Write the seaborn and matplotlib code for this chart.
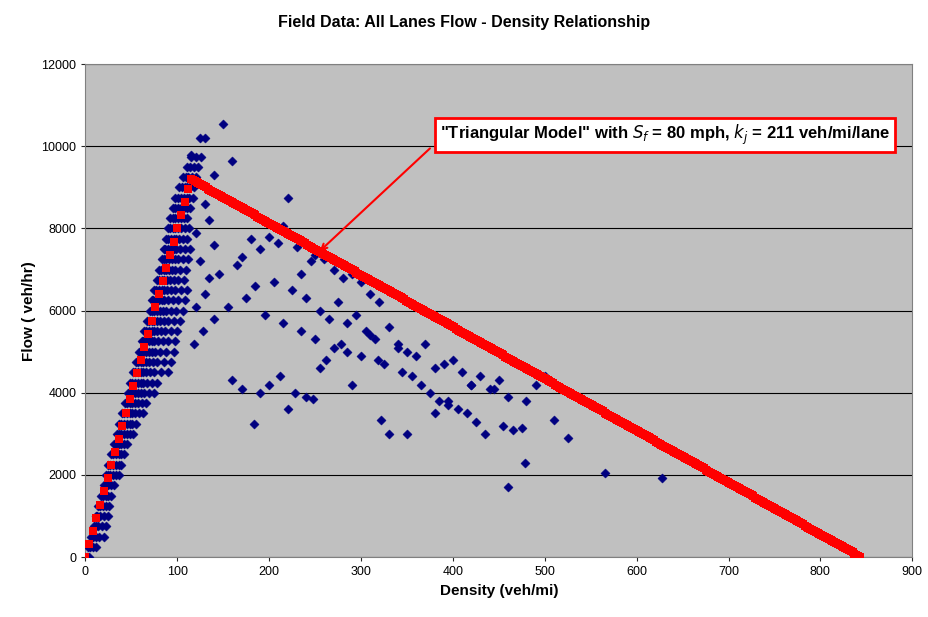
import numpy as np
import matplotlib
matplotlib.use("Agg")
import matplotlib.pyplot as plt
import seaborn as sns
import pandas as pd

# field data: dense free-flow band, flow level (veh/hr) -> observed densities (veh/mi)
band_rows = {
    0: [0, 2, 4],
    250: [3, 5, 8, 12],
    500: [6, 8, 11, 15, 20],
    750: [9, 11, 14, 18, 22],
    1000: [11, 13, 16, 20, 24],
    1250: [14, 16, 19, 22, 26],
    1500: [17, 19, 22, 25, 28],
    1750: [20, 22, 25, 28, 31],
    2000: [22, 24, 27, 30, 33, 36],
    2250: [25, 27, 30, 33, 36, 39],
    2500: [28, 30, 33, 36, 39, 42],
    2750: [31, 33, 36, 39, 42, 45],
    3000: [34, 36, 39, 42, 45, 48, 52],
    3250: [37, 39, 42, 45, 48, 51, 55],
    3500: [40, 42, 45, 48, 51, 54, 58, 63],
    3750: [43, 45, 48, 51, 54, 57, 61, 66],
    4000: [46, 48, 51, 54, 57, 60, 64, 69, 75],
    4250: [49, 51, 54, 57, 60, 63, 67, 72, 78],
    4500: [52, 54, 57, 60, 63, 66, 70, 75, 82, 90],
    4750: [55, 57, 60, 63, 66, 69, 73, 78, 85, 93],
    5000: [58, 60, 63, 66, 69, 72, 76, 81, 88, 96],
    5250: [61, 63, 66, 69, 72, 75, 79, 84, 90, 98],
    5500: [64, 66, 69, 72, 75, 78, 82, 87, 93, 100],
    5750: [67, 69, 72, 75, 78, 81, 85, 90, 96, 103],
    6000: [70, 72, 75, 78, 81, 84, 88, 93, 99, 106],
    6250: [72, 74, 77, 80, 83, 86, 90, 95, 101, 108],
    6500: [75, 77, 80, 83, 86, 89, 93, 98, 104, 110],
    6750: [78, 80, 83, 86, 89, 92, 96, 101, 107],
    7000: [80, 82, 85, 88, 91, 94, 98, 103, 109],
    7250: [83, 85, 88, 91, 94, 97, 101, 106, 112],
    7500: [85, 87, 90, 93, 96, 99, 103, 108, 114],
    7750: [88, 90, 93, 96, 99, 102, 106, 111],
    8000: [90, 92, 95, 98, 101, 104, 108, 113],
    8250: [92, 95, 98, 101, 104, 107, 111],
    8500: [95, 98, 101, 104, 107, 110, 114],
    8750: [98, 101, 104, 107, 110, 113, 117],
    9000: [102, 105, 108, 111, 114, 118],
    9250: [106, 109, 112, 116, 120],
    9500: [110, 114, 118, 122],
    9750: [115, 120, 126],
}

# field data: scattered congested points (density, flow)
scat_points = [
    (150, 10550), (125, 10200), (130, 10200), (115, 9800), (160, 9650), (140, 9300), (220, 8750),
    (215, 8050), (180, 7750), (200, 7800), (190, 7500), (210, 7650), (230, 7550), (170, 7300),
    (165, 7100), (245, 7200), (250, 7350), (260, 7250), (235, 6900), (270, 7000), (280, 6800),
    (290, 6900), (300, 6700), (310, 6400), (320, 6200), (240, 6300), (255, 6000), (265, 5800),
    (275, 6200), (285, 5700), (295, 5900), (305, 5500), (315, 5300), (330, 5600), (340, 5200),
    (350, 5000), (360, 4900), (370, 5200), (380, 4600), (390, 4700), (400, 4800), (410, 4500),
    (420, 4200), (430, 4400), (440, 4100), (450, 4300), (460, 3900), (470, 4700), (480, 3800),
    (490, 4200), (500, 4400), (510, 3350), (525, 2900), (565, 2050), (628, 1920), (185, 6600),
    (205, 6700), (225, 6500), (175, 6300), (155, 6100), (145, 6900), (195, 5900), (215, 5700),
    (235, 5500), (250, 5300), (270, 5100), (285, 5000), (300, 4900), (318, 4800), (325, 4700),
    (345, 4500), (355, 4400), (365, 4200), (375, 4000), (385, 3800), (395, 3700), (405, 3600),
    (415, 3500), (425, 3300), (435, 3000), (445, 4100), (455, 3200), (465, 3100), (475, 3150),
    (478, 2300), (460, 1700), (350, 3000), (322, 3350), (183, 3250), (330, 3000), (255, 4600),
    (290, 4200), (310, 5400), (340, 5100), (212, 4400), (228, 4000), (248, 3850), (262, 4800),
    (278, 5200), (160, 4300), (170, 4100), (190, 4000), (200, 4200), (220, 3600), (240, 3900),
    (380, 3500), (395, 3800), (420, 4200), (130, 8600), (135, 8200), (120, 7900), (140, 7600),
    (125, 7200), (135, 6800), (130, 6400), (120, 6100), (140, 5800), (128, 5500), (118, 5200),
]

# triangular model parameters
sf = 80.0          # mph
kj = 211 * 4       # veh/mi, 4 lanes
kc = 115.0
qmax = sf * kc
model_k = np.concatenate([np.arange(0, kc, 4.0), np.arange(kc, kj + 1, 2.0)])
model_q = np.where(model_k <= kc, sf * model_k, qmax * (kj - model_k) / (kj - kc))

band_points = [(k, q) for q, ks in band_rows.items() for k in ks]

sns.set_style("white")
plt.rcParams["font.family"] = ["Liberation Sans", "DejaVu Sans"]
plt.rcParams["text.color"] = "black"
plt.rcParams["axes.labelcolor"] = "black"

fig, ax = plt.subplots(figsize=(9.29, 6.17), dpi=100)
fig.subplots_adjust(left=0.092, right=0.982, top=0.896, bottom=0.097)
ax.set_facecolor("#C0C0C0")

field = pd.DataFrame(band_points + scat_points, columns=["k", "q"])
sns.scatterplot(data=field, x="k", y="q", marker="D", s=22, color="#000080",
                edgecolor="#000080", linewidth=0.3, ax=ax, zorder=3)
sns.scatterplot(x=model_k, y=model_q, marker="s", s=30, color="#FF0000",
                edgecolor="#FF0000", linewidth=0, ax=ax, zorder=4)

ax.set_xlim(0, 900)
ax.set_ylim(0, 12000)
ax.set_xticks(range(0, 901, 100))
ax.set_yticks(range(0, 12001, 2000))
ax.yaxis.grid(True, color="black", linewidth=0.8)
ax.set_axisbelow(True)
for s in ax.spines.values():
    s.set_color("#808080")
ax.tick_params(labelsize=9, length=3, direction="out", left=True, bottom=True,
               labelcolor="black")
ax.set_xlabel("Density (veh/mi)", fontsize=11, fontweight="bold")
ax.set_ylabel("Flow ( veh/hr)", fontsize=11, fontweight="bold")
fig.suptitle("Field Data: All Lanes Flow - Density Relationship", fontsize=11.5,
             fontweight="bold", y=0.975)

ax.annotate("", xy=(255, 7450), xytext=(375, 9950),
            arrowprops=dict(arrowstyle="->", color="#FF0000", lw=1.5,
                            shrinkA=0, shrinkB=0), zorder=5)
ax.text(631, 10270, r'"Triangular Model" with $S_f$ = 80 mph, $k_j$ = 211 veh/mi/lane',
        ha="center", va="center", fontsize=12, fontweight="bold", zorder=6,
        bbox=dict(boxstyle="square,pad=0.3", fc="white", ec="#FF0000", lw=2))

fig.savefig("out.png", dpi=100)
